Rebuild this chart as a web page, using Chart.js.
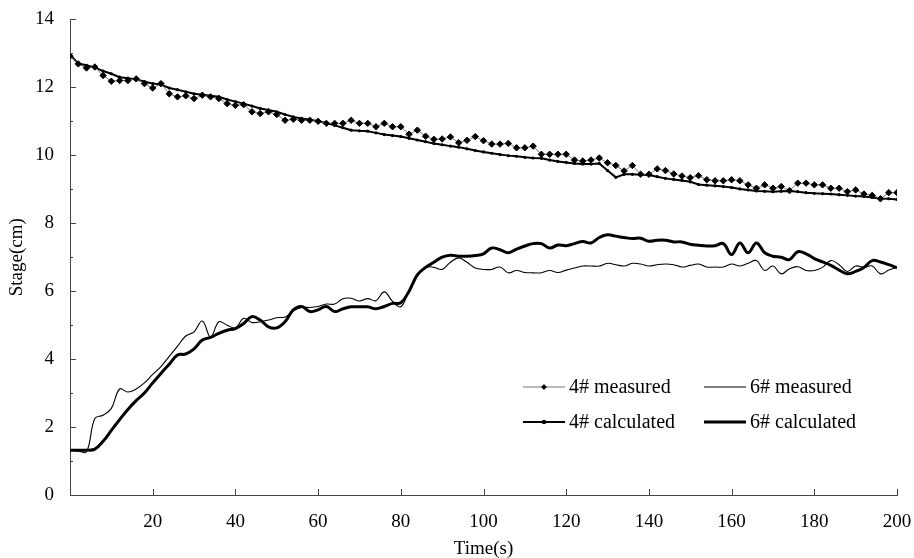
<!DOCTYPE html>
<html>
<head>
<meta charset="utf-8">
<script src="https://cdn.jsdelivr.net/npm/chart.js@4.4.1/dist/chart.umd.min.js"></script>
<style>
  html, body { margin: 0; padding: 0; background: #fff; }
  #wrap { width: 914px; height: 558px; }
</style>
</head>
<body>
<div id="wrap"><canvas id="stage-chart" width="914" height="558"></canvas></div>
<script>
/**************************************************************
                     STAGE vs TIME DATA
***************************************************************/
let timeSec = [
  0, 2, 4, 6, 8, 10, 12, 14, 16, 18,
  20, 22, 24, 26, 28, 30, 32, 34, 36, 38,
  40, 42, 44, 46, 48, 50, 52, 54, 56, 58,
  60, 62, 64, 66, 68, 70, 72, 74, 76, 78,
  80, 82, 84, 86, 88, 90, 92, 94, 96, 98,
  100, 102, 104, 106, 108, 110, 112, 114, 116, 118,
  120, 122, 124, 126, 128, 130, 132, 134, 136, 138,
  140, 142, 144, 146, 148, 150, 152, 154, 156, 158,
  160, 162, 164, 166, 168, 170, 172, 174, 176, 178,
  180, 182, 184, 186, 188, 190, 192, 194, 196, 198,
  200
]
let measured4 = [
  12.92, 12.69, 12.57, 12.60, 12.35, 12.18, 12.20, 12.20, 12.25, 12.11,
  11.98, 12.11, 11.81, 11.72, 11.75, 11.67, 11.77, 11.72, 11.67, 11.52,
  11.47, 11.49, 11.28, 11.23, 11.28, 11.20, 11.03, 11.06, 11.03, 11.03,
  11.00, 10.94, 10.94, 10.94, 11.03, 10.94, 10.94, 10.84, 10.94, 10.84,
  10.84, 10.62, 10.74, 10.56, 10.47, 10.48, 10.54, 10.37, 10.44, 10.55,
  10.43, 10.33, 10.33, 10.35, 10.22, 10.22, 10.27, 10.03, 10.03, 10.03,
  10.03, 9.86, 9.83, 9.86, 9.92, 9.78, 9.70, 9.54, 9.70, 9.44,
  9.44, 9.60, 9.55, 9.45, 9.39, 9.34, 9.40, 9.28, 9.25, 9.25,
  9.28, 9.25, 9.13, 9.03, 9.13, 9.03, 9.08, 8.96, 9.18, 9.18,
  9.13, 9.13, 9.03, 9.03, 8.93, 8.98, 8.86, 8.82, 8.72, 8.90,
  8.90
]
let calculated4 = [
  12.95, 12.70, 12.65, 12.58, 12.48, 12.40, 12.30, 12.27, 12.23, 12.17,
  12.11, 12.08, 11.98, 11.93, 11.87, 11.81, 11.78, 11.75, 11.72, 11.64,
  11.58, 11.52, 11.45, 11.38, 11.33, 11.28, 11.20, 11.13, 11.08, 11.05,
  11.00, 10.95, 10.88, 10.81, 10.74, 10.72, 10.71, 10.66, 10.61, 10.58,
  10.55, 10.50, 10.45, 10.40, 10.35, 10.31, 10.27, 10.24, 10.19, 10.14,
  10.10, 10.06, 10.02, 9.99, 9.97, 9.94, 9.92, 9.91, 9.86, 9.82,
  9.79, 9.76, 9.74, 9.74, 9.76, 9.55, 9.35, 9.44, 9.44, 9.43,
  9.42, 9.37, 9.32, 9.29, 9.26, 9.22, 9.14, 9.12, 9.10, 9.08,
  9.05, 9.01, 8.98, 8.95, 8.94, 8.93, 8.94, 8.95, 8.93, 8.90,
  8.88, 8.87, 8.86, 8.84, 8.82, 8.80, 8.79, 8.76, 8.73, 8.72,
  8.70
]
let measured6 = [
  1.32, 1.30, 1.27, 2.25, 2.35, 2.55, 3.12, 3.03, 3.12, 3.30,
  3.55, 3.78, 4.08, 4.38, 4.68, 4.80, 5.12, 4.65, 5.10, 5.00,
  4.92, 5.20, 5.08, 5.10, 5.15, 5.22, 5.24, 5.42, 5.52, 5.52,
  5.55, 5.62, 5.62, 5.78, 5.79, 5.71, 5.78, 5.72, 5.98, 5.70,
  5.54, 6.02, 6.48, 6.70, 6.70, 6.64, 6.85, 6.98, 6.85, 6.68,
  6.64, 6.64, 6.71, 6.54, 6.61, 6.55, 6.54, 6.54, 6.61, 6.55,
  6.62, 6.68, 6.74, 6.74, 6.74, 6.82, 6.78, 6.74, 6.82, 6.80,
  6.74, 6.78, 6.80, 6.78, 6.71, 6.76, 6.80, 6.71, 6.71, 6.71,
  6.80, 6.74, 6.82, 6.90, 6.61, 6.74, 6.51, 6.66, 6.72, 6.61,
  6.61, 6.70, 6.90, 6.78, 6.58, 6.74, 6.70, 6.74, 6.51, 6.62,
  6.71
]
let calculated6 = [
  1.32, 1.32, 1.32, 1.35, 1.58, 1.90, 2.22, 2.52, 2.78, 3.00,
  3.30, 3.58, 3.85, 4.12, 4.15, 4.30, 4.56, 4.64, 4.76, 4.85,
  4.90, 5.05, 5.25, 5.15, 4.95, 4.92, 5.10, 5.45, 5.55, 5.40,
  5.45, 5.55, 5.40, 5.48, 5.54, 5.54, 5.54, 5.48, 5.55, 5.64,
  5.66, 6.00, 6.48, 6.70, 6.85, 7.00, 7.06, 7.03, 7.03, 7.05,
  7.10, 7.27, 7.22, 7.13, 7.24, 7.33, 7.40, 7.40, 7.27, 7.36,
  7.34, 7.40, 7.46, 7.42, 7.58, 7.66, 7.62, 7.58, 7.55, 7.56,
  7.47, 7.50, 7.50, 7.45, 7.45, 7.38, 7.35, 7.33, 7.34, 7.40,
  7.08, 7.42, 7.13, 7.42, 7.13, 7.03, 7.00, 6.93, 7.16, 7.10,
  6.96, 6.86, 6.76, 6.62, 6.51, 6.58, 6.70, 6.90, 6.86, 6.78,
  6.69
]
let seriesLabels = ["4# measured", "4# calculated", "6# measured", "6# calculated"]
let xTickValues = [20, 40, 60, 80, 100, 120, 140, 160, 180, 200]
let yTickValues = [0, 2, 4, 6, 8, 10, 12, 14]

let serifFont = "'Liberation Serif', 'Times New Roman', serif"
Chart.defaults.font.family = serifFont
Chart.defaults.color = '#000'

function toPoints(values) {
    return values.map((v, i) => ({ x: timeSec[i], y: v }))
}

/*** small ticks pointing into the plot, like the original figure ***/
let inwardTicks = {
    id: 'inwardTicks',
    afterDraw(chart) {
        let ctx = chart.ctx
        let xs = chart.scales.x
        let ys = chart.scales.y
        let area = chart.chartArea
        ctx.save()
        ctx.strokeStyle = '#444'
        ctx.lineWidth = 1
        ctx.beginPath()
        xTickValues.forEach(v => {
            let px = Math.round(xs.getPixelForValue(v)) + 0.5
            ctx.moveTo(px, area.bottom)
            ctx.lineTo(px, area.bottom - 6)
        })
        for (let v = 1; v <= 14; v++) {
            let py = Math.round(ys.getPixelForValue(v)) + 0.5
            let len = v % 2 === 0 ? 6 : 3
            ctx.moveTo(area.left, py)
            ctx.lineTo(area.left + len, py)
        }
        ctx.stroke()
        ctx.restore()
    }
}

/*** two by two legend inside the plot ***/
let gridLegend = {
    id: 'gridLegend',
    afterDraw(chart) {
        let ctx = chart.ctx
        let cells = [
            { ds: 0, x: 523, y: 387 },
            { ds: 2, x: 704, y: 387 },
            { ds: 1, x: 523, y: 422 },
            { ds: 3, x: 704, y: 422 }
        ]
        ctx.save()
        ctx.font = "20px " + serifFont
        ctx.textBaseline = 'middle'
        ctx.fillStyle = '#000'
        cells.forEach(c => {
            let ds = chart.data.datasets[c.ds]
            ctx.strokeStyle = ds.borderColor
            ctx.lineWidth = ds.borderWidth
            ctx.beginPath()
            ctx.moveTo(c.x, c.y)
            ctx.lineTo(c.x + 42, c.y)
            ctx.stroke()
            if (ds.pointRadius > 0) {
                Chart.helpers.drawPoint(ctx, {
                    pointStyle: ds.pointStyle,
                    radius: ds.pointRadius * 0.8,
                    borderWidth: 1
                }, c.x + 21, c.y)
                ctx.fillStyle = '#000'
                ctx.fill()
            }
            ctx.fillStyle = '#000'
            ctx.fillText(ds.label, c.x + 46, c.y + 1)
        })
        ctx.restore()
    }
}

let stageChartCanvas = document.getElementById("stage-chart").getContext('2d')
let stageChartConfig = {
    type: 'line',
    data: {
        datasets: [{
            label: seriesLabels[0],
            data: toPoints(measured4),
            borderColor: '#777',
            borderWidth: 1,
            pointStyle: 'rectRot',
            pointRadius: 3.2,
            pointBackgroundColor: '#000',
            pointBorderColor: '#000',
            pointBorderWidth: 1,
            tension: 0
        }, {
            label: seriesLabels[1],
            data: toPoints(calculated4),
            borderColor: '#000',
            borderWidth: 2,
            pointStyle: 'circle',
            pointRadius: 1.6,
            pointBackgroundColor: '#000',
            pointBorderColor: '#000',
            pointBorderWidth: 0,
            tension: 0
        }, {
            label: seriesLabels[2],
            data: toPoints(measured6),
            borderColor: '#000',
            borderWidth: 1.1,
            pointRadius: 0,
            tension: 0.4
        }, {
            label: seriesLabels[3],
            data: toPoints(calculated6),
            borderColor: '#000',
            borderWidth: 3,
            pointRadius: 0,
            tension: 0.4
        }]
    },
    options: {
        responsive: false,
        animation: false,
        devicePixelRatio: 1,
        layout: { padding: { top: 17, right: 17, left: 0, bottom: 0 } },
        plugins: {
            legend: { display: false },
            tooltip: { enabled: false }
        },
        scales: {
            x: {
                type: 'linear',
                min: 0,
                max: 200,
                afterFit: scale => {
                    scale.height = 63
                    scale.paddingRight = 0
                    scale.paddingLeft = 0
                },
                afterBuildTicks: scale => {
                    scale.ticks = [{ value: 0 }].concat(xTickValues.map(v => ({ value: v })))
                },
                ticks: {
                    callback: v => (v === 0 ? '' : v),
                    font: { size: 19 },
                    padding: 8,
                    maxRotation: 0,
                    autoSkip: false
                },
                grid: { display: false },
                border: { display: true, color: '#444', width: 1 },
                title: {
                    display: true,
                    text: 'Time(s)',
                    font: { size: 19 },
                    padding: { top: 0, bottom: -2 }
                }
            },
            y: {
                min: 0,
                max: 14,
                afterFit: scale => { scale.width = 70 },
                afterBuildTicks: scale => {
                    scale.ticks = yTickValues.map(v => ({ value: v }))
                },
                ticks: {
                    font: { size: 19 },
                    padding: 8
                },
                grid: { display: false },
                border: { display: true, color: '#444', width: 1 },
                title: {
                    display: true,
                    text: 'Stage(cm)',
                    font: { size: 19 },
                    padding: { top: 6, bottom: 0 }
                }
            }
        }
    },
    plugins: [inwardTicks, gridLegend]
}

/*** Create the chart from the stage canvas and config ***/
let stageChart = new Chart(stageChartCanvas, stageChartConfig)
</script>
</body>
</html>
